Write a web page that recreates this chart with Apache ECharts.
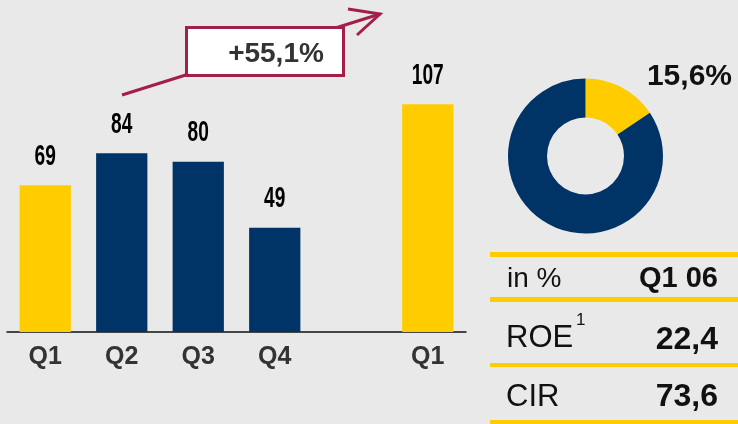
<!DOCTYPE html>
<html>
<head>
<meta charset="utf-8">
<script src="https://cdn.jsdelivr.net/npm/echarts@6/dist/echarts.min.js"></script>
<style>
  html, body { margin: 0; padding: 0; background: #e9e9e9; }
  #chart { width: 738px; height: 424px; }
</style>
</head>
<body>
<div id="chart"></div>
<script>
// quarterly values (blank slot separates the years)
const categories = ['Q1', 'Q2', 'Q3', 'Q4', '', 'Q1']
const values = [69, 84, 80, 49, null, 107]

const growthLabel = '+55,1%'

// donut: share vs. rest
const shareValues = [15.6, 84.4]
const shareLabel = '15,6%'

// small table on the right
const tableHeader = ['in %', 'Q1 06']
const tableLabels = ['ROE', 'CIR']
const tableValues = ['22,4', '73,6']

const YELLOW = '#ffcc00'
const NAVY = '#003366'
const RED = '#a31f48'
const FONT = '"Liberation Sans", Arial, sans-serif'

const chart = echarts.init(document.getElementById('chart'))

const txt = (text, x, y, size, weight, align, color) => ({
    type: 'text',
    x: x, y: y,
    style: {
        text: text,
        fontSize: size,
        fontWeight: weight,
        fontFamily: FONT,
        fill: color || '#111',
        align: align, textAlign: align,
        verticalAlign: 'middle', textVerticalAlign: 'middle'
    }
})

const tableLine = (y, h) => ({
    type: 'rect',
    shape: { x: 490, y: y, width: 248, height: h },
    style: { fill: YELLOW }
})

const graphics = [
    // growth arrow behind the box
    { type: 'line', shape: { x1: 122, y1: 95, x2: 380, y2: 14 }, style: { stroke: RED, lineWidth: 3 } },
    { type: 'polyline', shape: { points: [[348, 9], [380, 14], [357, 35]] }, style: { stroke: RED, lineWidth: 3, fill: null } },
    { type: 'rect', shape: { x: 186.5, y: 27.5, width: 157, height: 48 }, style: { fill: '#fff', stroke: RED, lineWidth: 3 } },
    txt(growthLabel, 276, 54, 28, 'bold', 'center', '#333'),
    // donut label
    txt(shareLabel, 732, 77, 30, 'bold', 'right', '#111'),
    // table
    tableLine(252, 5),
    tableLine(297, 5),
    tableLine(363, 4),
    tableLine(420, 4),
    txt(tableHeader[0], 507, 279, 28, 'normal', 'left'),
    txt(tableHeader[1], 718, 279, 29, 'bold', 'right'),
    txt(tableLabels[0], 506, 338, 31, 'normal', 'left'),
    txt('1', 576, 320, 17, 'normal', 'left'),
    txt(tableValues[0], 718, 340, 32, 'bold', 'right'),
    txt(tableLabels[1], 506, 397, 31, 'normal', 'left'),
    txt(tableValues[1], 718, 397, 32, 'bold', 'right')
]

// value labels in a condensed look: squeezed text placed on the bar tops
const labelData = values
    .map((v, i) => v == null ? null : [i, v])
    .filter(d => d)

const option = {
    backgroundColor: '#e9e9e9',
    animation: false,
    grid: { left: 7, width: 459, top: 0, bottom: 92, containLabel: false },
    xAxis: {
        type: 'category',
        data: categories,
        axisLine: { lineStyle: { color: '#111', width: 1.5 } },
        axisTick: { show: false },
        axisLabel: {
            margin: 13,
            color: '#333',
            fontSize: 25,
            fontWeight: 'bold',
            fontFamily: FONT
        }
    },
    yAxis: {
        type: 'value',
        min: 0,
        max: 156,
        show: false
    },
    series: [
        {
            type: 'bar',
            data: values,
            barWidth: '67%',
            itemStyle: {
                color: (p) => p.name === 'Q1' ? YELLOW : NAVY
            }
        },
        {
            type: 'custom',
            data: labelData,
            silent: true,
            renderItem: (params, api) => {
                const pt = api.coord([api.value(0), api.value(1)])
                return {
                    type: 'text',
                    x: pt[0],
                    y: pt[1] - 14,
                    scaleX: 0.66,
                    style: {
                        text: String(api.value(1)),
                        x: 0, y: 0,
                        fontSize: 29,
                        fontWeight: 'bold',
                        fontFamily: FONT,
                        fill: '#000',
                        align: 'center',
                        verticalAlign: 'bottom'
                    }
                }
            }
        },
        {
            type: 'pie',
            center: [585.5, 156],
            radius: [38.5, 77.5],
            startAngle: 90,
            clockwise: true,
            silent: true,
            label: { show: false },
            labelLine: { show: false },
            data: shareValues.map(v => ({ value: v })),
            color: [YELLOW, NAVY]
        }
    ],
    graphic: graphics
}

chart.setOption(option)
</script>
</body>
</html>
